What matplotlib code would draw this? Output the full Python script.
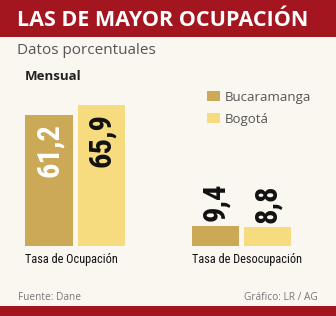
import matplotlib
matplotlib.use("Agg")
import matplotlib.pyplot as plt
from matplotlib.patches import Rectangle
from matplotlib import font_manager

categories = ["Tasa de Ocupación", "Tasa de Desocupación"]
series = ["Bucaramanga", "Bogotá"]
bucaramanga = [61.2, 9.4]
bogota = [65.9, 8.8]
value_labels = [["61,2", "9,4"], ["65,9", "8,8"]]

colors = ["#CCA957", "#F6DC7E"]
bg = "#FAF6F0"
red = "#A4161F"
names = {f.name for f in font_manager.fontManager.ttflist}
narrow = [n for n in ["Roboto Condensed", "Liberation Sans Narrow", "DejaVu Sans Condensed",
                      "Roboto"] if n in names][:1] + ["DejaVu Sans"]

W, H = 336, 316
fig = plt.figure(figsize=(W / 100, H / 100), dpi=100, facecolor=bg)

# header / footer bands
fig.patches.append(Rectangle((0, 1 - 37 / H), 1, 37 / H, transform=fig.transFigure,
                             facecolor=red, edgecolor="none"))
fig.patches.append(Rectangle((0, 0), 1, 10 / H, transform=fig.transFigure,
                             facecolor=red, edgecolor="none"))

fig.text(17 / W, 1 - 21 / H, "LAS DE MAYOR OCUPACIÓN", color="white", fontsize=15.5,
         fontweight="bold", family="Open Sans", va="center", ha="left")
fig.text(17 / W, 1 - 51 / H, "Datos porcentuales", color="#555555", fontsize=11,
         family="Open Sans", va="center", ha="left")
fig.text(25 / W, 1 - 77 / H, "Mensual", color="#222222", fontsize=9.5,
         fontweight="bold", family="Open Sans", va="center", ha="left")
fig.text(18 / W, 1 - 298 / H, "Fuente: Dane", color="#777777", fontsize=7.3,
         family="Open Sans", va="center", ha="left")
fig.text(318 / W, 1 - 298 / H, "Gráfico: LR / AG", color="#777777", fontsize=7.3,
         family="Open Sans", va="center", ha="right")

# bars
base_px = 245.7
px_per_unit = 2.136
ax = fig.add_axes([0, 1 - base_px / H, 1, base_px / H])
ax.set_facecolor("none")
g_sp = 166.0
ax.set_xlim(-75 / g_sp, (W - 75) / g_sp)
ax.set_ylim(0, base_px / px_per_unit)
ax.axis("off")

width = 47 / g_sp
off = 26 / g_sp
xs = range(len(categories))
for i, (vals, col) in enumerate(zip([bucaramanga, bogota], colors)):
    pos = [x + (i - 0.5) * 2 * off for x in xs]
    ax.bar(pos, vals, width=width, color=col, label=series[i])
    for j, (p, v) in enumerate(zip(pos, vals)):
        lab = value_labels[i][j]
        if v > 30:
            tc = "white" if i == 0 else "#111111"
            ax.annotate(lab, (p, v), xytext=(0, -6), textcoords="offset points",
                        rotation=90, ha="center", va="top", color=tc, fontsize=22,
                        family=narrow, fontweight="semibold")
        else:
            ax.annotate(lab, (p, v), xytext=(0, 3), textcoords="offset points",
                        rotation=90, ha="center", va="bottom", color="#111111",
                        fontsize=22, family=narrow, fontweight="semibold")

for x, cat in zip(xs, categories):
    ax.annotate(cat, (x - off - width / 2, 0), xytext=(0, -5), textcoords="offset points",
                ha="left", va="top", fontsize=8.8, color="#111111", family=narrow)

ax.legend(loc="upper left", bbox_to_anchor=(207 / W, 1 - 91 / H), bbox_transform=fig.transFigure,
          frameon=False, borderaxespad=0, borderpad=0, handlelength=1.0, handleheight=0.8,
          handletextpad=0.35, labelspacing=0.65,
          prop={"family": "Open Sans", "size": 9.5}, labelcolor="#555555")

fig.savefig("out.png", dpi=100, facecolor=bg)
